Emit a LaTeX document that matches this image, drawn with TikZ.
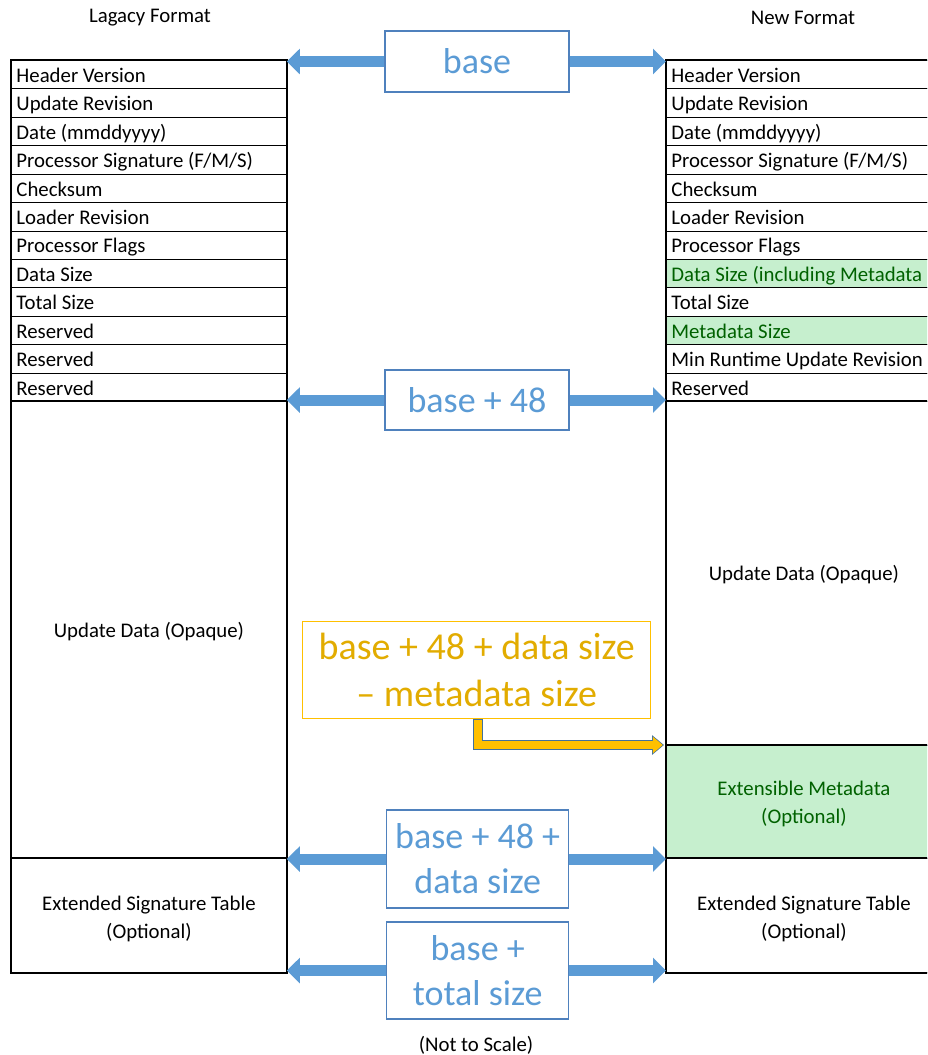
\documentclass[tikz,border=0pt]{standalone}
\usepackage{fontspec}
\setmainfont{Carlito}
\usetikzlibrary{arrows.meta}
\definecolor{arrowblue}{HTML}{5B9BD5}
\definecolor{boxblue}{HTML}{4F81BD}
\definecolor{txtblue}{HTML}{5B9BD5}
\definecolor{gold}{HTML}{FFC000}
\definecolor{goldtxt}{HTML}{E2AC00}
\definecolor{arrowedge}{HTML}{41719C}
\definecolor{goodfill}{HTML}{C6EFCE}
\definecolor{goodtxt}{HTML}{006100}
\begin{document}
\begin{tikzpicture}[x=1pt,y=-1pt,
  cell/.style={draw=black, line width=0.9pt, anchor=north west, text width=265pt,
    inner xsep=5pt, inner ysep=0pt, minimum height=28.42pt, text height=17pt,
    text depth=1.4pt, align=flush left, font=\fontsize{20.8}{24}\selectfont},
  good/.style={fill=goodfill, text=goodtxt},
  bigcell/.style={draw=black, line width=0.9pt, anchor=north west, minimum width=275pt,
    inner sep=0pt},
  celltext/.style={font=\fontsize{20.8}{28}\selectfont, align=flush center, inner sep=0pt},
  frame/.style={draw=black, line width=2.6pt, line cap=rect},
  lbl/.style={font=\fontsize{20.8}{24}\selectfont, inner sep=0pt},
  bluebox/.style={draw=boxblue, line width=1.2pt, fill=white, text=txtblue, align=center,
    inner sep=0pt, font=\fontsize{36}{45}\selectfont},
  goldbox/.style={draw=gold, line width=1.2pt, fill=white, text=goldtxt, align=center,
    inner sep=0pt, font=\fontsize{38}{47}\selectfont},
  barrow/.style={draw=arrowblue, line width=11pt,
    -{Triangle[width=25pt,length=13pt]}}
]
\useasboundingbox (0,0) rectangle (927,1055);
\clip (0,0) rectangle (927,1055);

% headings
\node[lbl] (hl) at (150,18) {Lagacy Format};
\node[lbl] (hr) at (803,18) {New Format};
\node[lbl] (ns) at (476,1045) {(Not to Scale)};

% left table
\node[cell] (L0) at (11,60.00) {Header Version};
\node[cell] (L1) at (11,88.42) {Update Revision};
\node[cell] (L2) at (11,116.84) {Date (mmddyyyy)};
\node[cell] (L3) at (11,145.26) {Processor Signature (F/M/S)};
\node[cell] (L4) at (11,173.68) {Checksum};
\node[cell] (L5) at (11,202.10) {Loader Revision};
\node[cell] (L6) at (11,230.52) {Processor Flags};
\node[cell] (L7) at (11,258.94) {Data Size};
\node[cell] (L8) at (11,287.36) {Total Size};
\node[cell] (L9) at (11,315.78) {Reserved};
\node[cell] (L10) at (11,344.20) {Reserved};
\node[cell] (L11) at (11,372.62) {Reserved};
\node[bigcell, minimum height=456.96pt,
  label={[celltext, yshift=-2pt]center:Update Data (Opaque)}] (LU) at (11,401.04) {};
\node[bigcell, minimum height=114pt,
  label={[celltext, yshift=-3pt]center:{Extended Signature Table\\(Optional)}}] (LE) at (11,858) {};

% right table
\node[cell] (R0) at (666,60.00) {Header Version};
\node[cell] (R1) at (666,88.42) {Update Revision};
\node[cell] (R2) at (666,116.84) {Date (mmddyyyy)};
\node[cell] (R3) at (666,145.26) {Processor Signature (F/M/S)};
\node[cell] (R4) at (666,173.68) {Checksum};
\node[cell] (R5) at (666,202.10) {Loader Revision};
\node[cell] (R6) at (666,230.52) {Processor Flags};
\node[cell, good] (R7) at (666,258.94) {Data Size (including Metadata};
\node[cell] (R8) at (666,287.36) {Total Size};
\node[cell, good] (R9) at (666,315.78) {Metadata Size};
\node[cell] (R10) at (666,344.20) {Min Runtime Update Revision};
\node[cell] (R11) at (666,372.62) {Reserved};
\node[bigcell, minimum height=343.96pt,
  label={[celltext, yshift=-1pt]center:Update Data (Opaque)}] (RU) at (666,401.04) {};
\node[bigcell, good, minimum height=113pt,
  label={[celltext, text=goodtxt, yshift=-2pt]center:{Extensible Metadata\\(Optional)}}] (RM) at (666,745) {};
\node[bigcell, minimum height=114pt,
  label={[celltext, yshift=-3pt]center:{Extended Signature Table\\(Optional)}}] (RE) at (666,858) {};

% thick frames
\draw[frame] (L0.north west) rectangle (LE.south east);
\draw[frame] (LU.north west) -- (LU.north east);
\draw[frame] (LE.north west) -- (LE.north east);
\draw[frame] (R0.north west) rectangle (RE.south east);
\draw[frame] (RU.north west) -- (RU.north east);
\draw[frame] (RM.north west) -- (RM.north east);
\draw[frame] (RE.north west) -- (RE.north east);

% offset boxes
\node[bluebox, minimum width=184pt, minimum height=61pt] (B0) at (477,61.5) {base};
\node[bluebox, minimum width=184pt, minimum height=60pt] (B1) at (477,400) {base + 48};
\node[bluebox, minimum width=182pt, minimum height=98pt] (B2) at (477.7,859) {base + 48 +\\data size};
\node[bluebox, minimum width=182pt, minimum height=97pt] (B3) at (477.7,970.5) {base +\\total size};
\node[goldbox, minimum width=348pt, minimum height=97pt] (O) at (476.7,670.3) {base + 48 + data size\\– metadata size};

% arrows
\foreach \b in {B0,B1,B2,B3}{
  \draw[barrow] (\b.west) -- (\b.west -| L0.east);
  \draw[barrow] (\b.east) -- (\b.east -| R0.west);
}
\draw[draw=arrowedge, line width=10pt, shorten >=2pt,
  -{Triangle[width=19pt,length=12pt]}] ([xshift=1pt]O.south) |- (RM.north west);
\draw[draw=gold, line width=8pt, shorten >=3.2pt,
  -{Triangle[width=16pt,length=10pt]}] ([xshift=1pt,yshift=-1pt]O.south) |- (RM.north west);
\end{tikzpicture}
\end{document}
